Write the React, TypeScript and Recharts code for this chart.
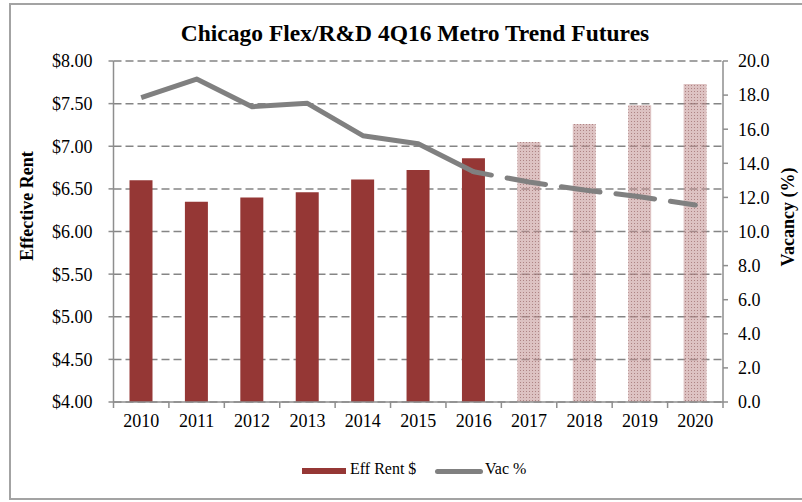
import { Bar, CartesianGrid, Cell, ComposedChart, Line, XAxis, YAxis } from 'recharts';

const years = ['2010', '2011', '2012', '2013', '2014', '2015', '2016', '2017', '2018', '2019', '2020'];
const effRent = [6.6, 6.35, 6.4, 6.46, 6.61, 6.72, 6.86, 7.05, 7.26, 7.48, 7.73];
const vacancy = [17.85, 18.94, 17.32, 17.52, 15.62, 15.15, 13.5, 12.9, 12.43, 12.04, 11.55];
const rentTicks = [4, 4.5, 5, 5.5, 6, 6.5, 7, 7.5, 8];
const vacTicks = [0, 2, 4, 6, 8, 10, 12, 14, 16, 18, 20];
const lastActual = 6; // 2016 is the last actual year, the rest are forecasts

const data = years.map((year, i) => ({
  year,
  rent: effRent[i],
  vac: i <= lastActual ? vacancy[i] : null,
  vacFcst: i >= lastActual ? vacancy[i] : null,
}));

const serif = '"Liberation Serif", "Times New Roman", serif';
const axisGray = '#8e8e8e';
const rentRed = '#953735';
const lineGray = '#808080';

const YearTick = (props: any) => {
  const { x, y, payload, index, visibleTicksCount } = props;
  const half = payload.offset ?? 27.7;
  const axisY = y - 12;
  return (
    <g>
      <line x1={x - half} x2={x - half} y1={axisY} y2={axisY + 6} stroke={axisGray} strokeWidth={1.5} />
      {index === visibleTicksCount - 1 && (
        <line x1={x + half} x2={x + half} y1={axisY} y2={axisY + 6} stroke={axisGray} strokeWidth={1.5} />
      )}
      <text x={x} y={y} dy="0.71em" textAnchor="middle" fill="#000" fontSize={18} fontFamily={serif}>
        {payload.value}
      </text>
    </g>
  );
};

export default function App() {
  const tickStyle = { fill: '#000', fontSize: 18, fontFamily: serif };
  return (
    <div style={{ fontFamily: serif, color: '#000' }}>
      <div
        style={{
          position: 'absolute',
          left: 9,
          top: 3,
          width: 793,
          height: 497,
          borderLeft: '2px solid #a3a3a3',
          borderTop: '2px solid #a3a3a3',
          borderBottom: '2px solid #a3a3a3',
          boxSizing: 'border-box',
        }}
      />
      <div style={{ position: 'absolute', left: 0, top: 0 }}>
        <ComposedChart width={802} height={502} data={data} margin={{ top: 61, right: 19, bottom: 70, left: 53.5 }}>
          <defs>
            <pattern id="fcstDots" width="3" height="3" patternUnits="userSpaceOnUse">
              <rect width="3" height="3" fill="#c09090" fillOpacity={0.55} />
              <rect x="1" y="1" width="1" height="1" fill="#8f5a5a" fillOpacity={0.6} />
            </pattern>
          </defs>
          <CartesianGrid yAxisId="rent" vertical={false} stroke="#858585" strokeWidth={1.5} strokeDasharray="8 4" />
          <XAxis
            dataKey="year"
            tickLine={false}
            tickSize={6}
            tickMargin={6}
            height={30}
            axisLine={{ stroke: axisGray, strokeWidth: 1.5 }}
            tick={<YearTick />}
            interval={0}
          />
          <YAxis
            yAxisId="rent"
            domain={[4, 8]}
            ticks={rentTicks}
            width={60}
            tickSize={5}
            tickMargin={16}
            tick={tickStyle}
            tickLine={{ stroke: axisGray, strokeWidth: 1.5 }}
            axisLine={{ stroke: axisGray, strokeWidth: 1.5 }}
            tickFormatter={(v: number) => `$${v.toFixed(2)}`}
            allowDataOverflow
          />
          <YAxis
            yAxisId="vac"
            orientation="right"
            domain={[0, 20]}
            ticks={vacTicks}
            width={60}
            tickSize={5}
            tickMargin={10}
            tick={tickStyle}
            tickLine={{ stroke: axisGray, strokeWidth: 1.5 }}
            axisLine={{ stroke: axisGray, strokeWidth: 1.5 }}
            tickFormatter={(v: number) => v.toFixed(1)}
          />
          <Bar yAxisId="rent" dataKey="rent" barSize={23} isAnimationActive={false}>
            {data.map((d, i) => (
              <Cell key={d.year} fill={i > lastActual ? 'url(#fcstDots)' : rentRed} />
            ))}
          </Bar>
          <Line
            yAxisId="vac"
            type="linear"
            dataKey="vac"
            stroke={lineGray}
            strokeWidth={5}
            strokeLinejoin="round"
            dot={false}
            activeDot={false}
            isAnimationActive={false}
          />
          <Line
            yAxisId="vac"
            type="linear"
            dataKey="vacFcst"
            stroke={lineGray}
            strokeWidth={5}
            strokeLinecap="round"
            strokeDasharray="18 16 39 16 39 16 39 16 39 16"
            dot={false}
            activeDot={false}
            isAnimationActive={false}
          />
        </ComposedChart>
      </div>
      <div
        style={{
          position: 'absolute',
          left: 0,
          width: 830,
          top: 20,
          textAlign: 'center',
          fontSize: 23.5,
          fontWeight: 'bold',
          whiteSpace: 'nowrap',
        }}
      >
        Chicago Flex/R&amp;D 4Q16 Metro Trend Futures
      </div>
      <div
        style={{
          position: 'absolute',
          left: 27,
          top: 206,
          transform: 'translate(-50%, -50%) rotate(-90deg)',
          fontSize: 18,
          fontWeight: 'bold',
          whiteSpace: 'nowrap',
        }}
      >
        Effective Rent
      </div>
      <div
        style={{
          position: 'absolute',
          left: 788,
          top: 217,
          transform: 'translate(-50%, -50%) rotate(-90deg)',
          fontSize: 18,
          fontWeight: 'bold',
          whiteSpace: 'nowrap',
        }}
      >
        Vacancy (%)
      </div>
      <div style={{ position: 'absolute', left: 302, top: 468, width: 44, height: 6, background: rentRed }} />
      <div style={{ position: 'absolute', left: 350, top: 460, fontSize: 16, whiteSpace: 'nowrap' }}>Eff Rent $</div>
      <div
        style={{ position: 'absolute', left: 435, top: 469, width: 48, height: 5, borderRadius: 3, background: lineGray }}
      />
      <div style={{ position: 'absolute', left: 485, top: 460, fontSize: 16, whiteSpace: 'nowrap' }}>Vac %</div>
    </div>
  );
}
